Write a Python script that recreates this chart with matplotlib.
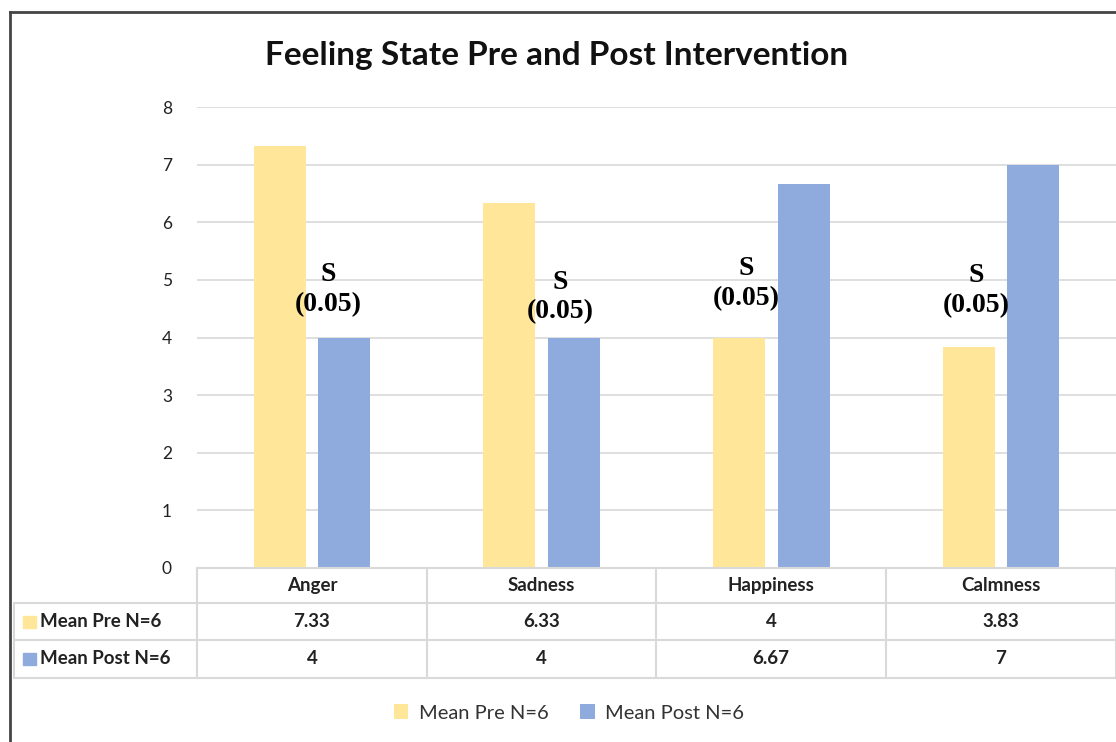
import matplotlib
matplotlib.use("Agg")
import matplotlib.pyplot as plt
from matplotlib.lines import Line2D
from matplotlib.patches import Patch

categories = ["Anger", "Sadness", "Happiness", "Calmness"]
pre_values = [7.33, 6.33, 4, 3.83]
post_values = [4, 4, 6.67, 7]
pre_labels = ["7.33", "6.33", "4", "3.83"]
post_labels = ["4", "4", "6.67", "7"]
series_names = ["Mean Pre N=6", "Mean Post N=6"]
sig_labels = ["S\n(0.05)", "S\n(0.05)", "S\n(0.05)", "S\n(0.05)"]
sig_x = [0.07, 1.08, 1.89, 2.89]
sig_y = [4.83, 4.70, 4.94, 4.82]
yticks = [0, 1, 2, 3, 4, 5, 6, 7, 8]

W, H = 1116, 742
PRE_C = "#ffe699"
POST_C = "#8faadc"
GRID_C = "#d9d9d9"
FONT = "Lato"

fig = plt.figure(figsize=(W / 100, H / 100), dpi=100)

def fx(px):
    return px / W

def fy(py):
    return 1 - py / H

ax_l, ax_r, ax_t, ax_b = 197, 1116, 107, 568
ax = fig.add_axes([fx(ax_l), fy(ax_b), fx(ax_r - ax_l), (ax_b - ax_t) / H])

xs = list(range(len(categories)))
bw = 0.226
off = 0.14
ax.bar([x - off for x in xs], pre_values, width=bw, color=PRE_C, zorder=3)
ax.bar([x + off for x in xs], post_values, width=bw, color=POST_C, zorder=3)

ax.set_xlim(-0.5, 3.5)
ax.set_ylim(0, 8)
ax.set_yticks(yticks)
ax.set_yticklabels([str(v) for v in yticks], fontsize=12.5, family=FONT, color="#222222")
ax.set_xticks([])
ax.grid(axis="y", color=GRID_C, linewidth=1.2, zorder=0)
for s in ax.spines.values():
    s.set_visible(False)
ax.tick_params(axis="y", length=0, pad=18)

for x, y, t in zip(sig_x, sig_y, sig_labels):
    ax.text(x, y, t, ha="center", va="center", fontsize=20, family="Liberation Serif",
            fontweight="bold", linespacing=1.25, zorder=5)

fig.text(fx(557), fy(55), "Feeling State Pre and Post Intervention", ha="center", va="center",
         fontsize=24, fontweight="bold", family=FONT, color="#111111")

# data table
col_edges = [197, 427, 656, 886, 1116]
row_edges = [568, 603, 640, 678]
left_edge = 14
lw = 1.5
def hline(y, x0, x1):
    fig.add_artist(Line2D([fx(x0), fx(x1)], [fy(y), fy(y)], color=GRID_C, lw=lw))
def vline(x, y0, y1):
    fig.add_artist(Line2D([fx(x), fx(x)], [fy(y0), fy(y1)], color=GRID_C, lw=lw))

hline(row_edges[0], col_edges[0], col_edges[-1])
for y in row_edges[1:]:
    hline(y, left_edge, col_edges[-1])
for x in col_edges:
    vline(x, row_edges[0], row_edges[-1])
vline(left_edge, row_edges[1], row_edges[-1])

TS = 13.5
for i, c in enumerate(categories):
    cx = (col_edges[i] + col_edges[i + 1]) / 2
    fig.text(fx(cx), fy((row_edges[0] + row_edges[1]) / 2), c, ha="center", va="center",
             fontsize=TS, fontweight="bold", family=FONT, color="#222222")
    fig.text(fx(cx), fy((row_edges[1] + row_edges[2]) / 2), pre_labels[i], ha="center", va="center",
             fontsize=TS, fontweight="bold", family=FONT, color="#222222")
    fig.text(fx(cx), fy((row_edges[2] + row_edges[3]) / 2), post_labels[i], ha="center", va="center",
             fontsize=TS, fontweight="bold", family=FONT, color="#222222")

for r, (name, col) in enumerate(zip(series_names, [PRE_C, POST_C])):
    yc = (row_edges[r + 1] + row_edges[r + 2]) / 2
    fig.add_artist(plt.Rectangle((fx(23), fy(yc + 6)), fx(13), 12 / H, color=col))
    fig.text(fx(40), fy(yc), name, ha="left", va="center", fontsize=TS, fontweight="bold",
             family=FONT, color="#222222")

# legend
handles = [Patch(facecolor=PRE_C, edgecolor="none"), Patch(facecolor=POST_C, edgecolor="none")]
leg = fig.legend(handles, series_names, loc="center", bbox_to_anchor=(fx(569), fy(713)), ncol=2,
                 frameon=False, prop={"family": FONT, "size": 14.5}, handlelength=0.7, handleheight=0.7,
                 handletextpad=0.5, columnspacing=1.6)
for t in leg.get_texts():
    t.set_color("#333333")

# outer border
fig.add_artist(Line2D([fx(10), fx(10)], [fy(12), 0], color="#444444", lw=2))
fig.add_artist(Line2D([fx(10), 1], [fy(12), fy(12)], color="#444444", lw=2))

fig.savefig("out.png", dpi=100, facecolor="white")
